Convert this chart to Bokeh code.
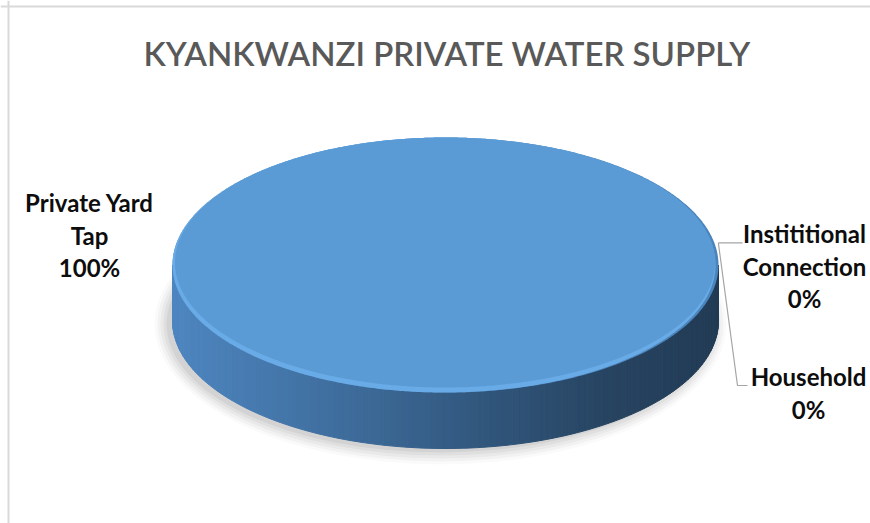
import numpy as np
from bokeh.plotting import figure
from bokeh.models import Range1d, ColumnDataSource, Span
from bokeh.core.properties import value
from bokeh.embed import file_html
from bokeh.resources import INLINE

# ---------------- data ----------------
title = "KYANKWANZI PRIVATE WATER SUPPLY"
categories = ["Private Yard Tap", "Instititional Connection", "Household"]
label_lines = [["Private Yard", "Tap"], ["Instititional", "Connection"], ["Household"]]
values = [100, 0, 0]

# ---------------- layout / style ----------------
W, H = 870, 523
CX, CY, RX, RY, DEPTH = 445.0, 264.5, 273.0, 127.5, 56.0
FIRST_ANGLE = 80.0          # degrees, clockwise from 12 o'clock
TOP_COLOR = "#5b9bd5"
RIM_LIGHT = "#68abe7"
RIM_DARK = "#4a84bd"
LABEL_FONT = value("Lato")
LBL_SIZE = "24px"
LINE_GAP = 32.5
label_pos = [(89, 202), (804, 233), (808, 376)]   # centre x, first baseline

p = figure(width=W, height=H, output_backend="svg", toolbar_location=None,
           x_range=Range1d(0, W), y_range=Range1d(H, 0),
           min_border=0, x_axis_location=None, y_axis_location=None)
p.grid.visible = False
p.outline_line_color = None
p.background_fill_color = "white"
p.border_fill_color = "white"

# chart border (left / top visible)
p.add_layout(Span(location=8, dimension="height", line_color="#d9d9d9", line_width=2))
p.add_layout(Span(location=6, dimension="width", line_color="#d9d9d9", line_width=2))

# ---------------- slice geometry from the data ----------------
total = float(sum(values))
spans = []
a = FIRST_ANGLE
for v in values:
    sweep = 360.0 * v / total
    spans.append((a, a + sweep))
    a += sweep


def pt(angle_deg, cx, cy, rx, ry):
    r = np.radians(angle_deg)
    return cx + rx * np.sin(r), cy - ry * np.cos(r)


def wedge_poly(a0, a1, cx, cy, rx, ry):
    ang = np.linspace(a0, a1, max(int(abs(a1 - a0) * 2), 2))
    xs, ys = pt(ang, cx, cy, rx, ry)
    if abs(a1 - a0) < 359.999:
        xs = np.concatenate([[cx], xs])
        ys = np.concatenate([[cy], ys])
    return list(xs), list(ys)


# soft shadow under the pie
for k, al in [(13, 0.02), (10, 0.03), (7, 0.035), (4, 0.04), (1, 0.05)]:
    p.ellipse(x=[CX - 5], y=[CY + DEPTH + 3], width=[2 * (RX + k)], height=[2 * (RY + k)],
              fill_color="#000000", fill_alpha=al, line_color=None)

# side wall (front half) with horizontal gradient
stops_u = [0.0, 0.3, 0.55, 0.8, 1.0]
stops_c = np.array([(78, 134, 192), (63, 110, 158), (50, 88, 126), (39, 68, 97), (34, 59, 85)], float)


def grad(u):
    return "#%02x%02x%02x" % tuple(int(round(np.interp(u, stops_u, stops_c[:, i]))) for i in range(3))


side_xs, side_ys, side_cols = [], [], []
for a0, a1 in spans:
    if a1 - a0 <= 0:
        continue
    for base in (0.0, 360.0, -360.0):
        lo, hi = max(a0, 90 + base), min(a1, 270 + base)
        if hi <= lo:
            continue
        edges = np.linspace(lo, hi, int((hi - lo) * 0.8) + 2)
        for e0, e1 in zip(edges[:-1], edges[1:]):
            x0, y0 = pt(e0, CX, CY, RX, RY)
            x1, y1 = pt(e1, CX, CY, RX, RY)
            side_xs.append([x0, x1, x1, x0])
            side_ys.append([y0, y1, y1 + DEPTH, y0 + DEPTH])
            u = ((x0 + x1) / 2 - (CX - RX)) / (2 * RX)
            side_cols.append(grad(u))
p.patches(xs=side_xs, ys=side_ys, fill_color=side_cols, line_color=side_cols, line_width=1)

# top faces with a soft bevel rim
for a0, a1 in spans:
    if a1 - a0 <= 0:
        continue
    xs, ys = wedge_poly(a0, a1, CX, CY, RX, RY)
    p.patch(xs, ys, fill_color=RIM_DARK, line_color=None)
    xs, ys = wedge_poly(a0, a1, CX - 1.5, CY, RX - 1.5, RY)
    p.patch(xs, ys, fill_color=RIM_LIGHT, line_color=None)
    xs, ys = wedge_poly(a0, a1, CX - 0.5, CY - 2.5, RX - 3, RY - 2.5)
    p.patch(xs, ys, fill_color=TOP_COLOR, line_color=None)

# ---------------- leader lines ----------------
ax, ay = pt(spans[1][0], CX, CY, RX, RY)
p.multi_line(xs=[[ax + 4, 742], [ax + 4, 737, 747]],
             ys=[[ay, ay], [ay, 385, 385]],
             line_color="#a6a6a6", line_width=1.2)

# ---------------- labels ----------------
tx, ty, tt = [], [], []
for lines, v, (lx, ly) in zip(label_lines, values, label_pos):
    pct = "%d%%" % round(100.0 * v / total)
    for i, s in enumerate(lines + [pct]):
        tx.append(lx)
        ty.append(ly + i * LINE_GAP)
        tt.append(s)
p.text(x="x", y="y", text="t", source=ColumnDataSource(dict(x=tx, y=ty, t=tt)),
       text_font=LABEL_FONT, text_font_style="bold", text_font_size=LBL_SIZE,
       text_color="#0d0d0d", text_align="center", text_baseline="alphabetic")

# ---------------- title ----------------
p.text(x=[446.5], y=[52], text=[title], text_font=value("Lato Semibold"), text_font_size="33px",
       text_color="#595959", text_align="center", text_baseline="alphabetic")

open("out.html", "w").write(file_html(p, INLINE))
